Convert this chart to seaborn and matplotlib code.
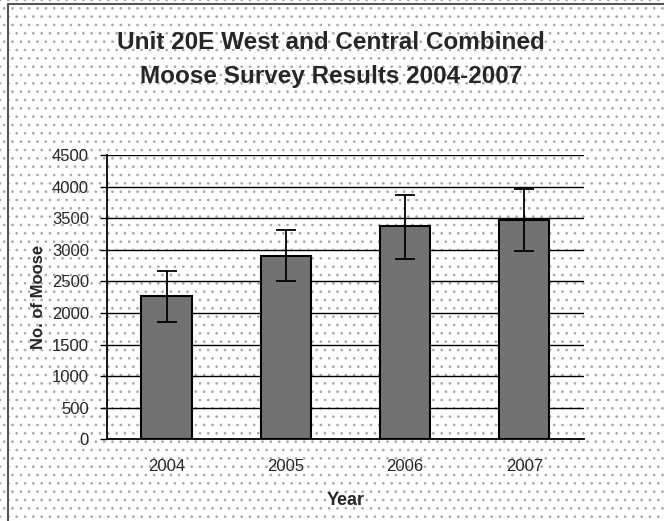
import numpy as np
import pandas as pd
import matplotlib
matplotlib.use("Agg")
import matplotlib.pyplot as plt
from matplotlib.patches import Rectangle
from matplotlib.lines import Line2D
from matplotlib.ticker import FixedLocator
import seaborn as sns

# datos
years = ["2004", "2005", "2006", "2007"]
moose = [2266, 2900, 3375, 3470]
err_low = [1854, 2503, 2852, 2979]
err_high = [2662, 3312, 3866, 3961]
yticks = [0, 500, 1000, 1500, 2000, 2500, 3000, 3500, 4000, 4500]

df = pd.DataFrame({"year": years, "moose": moose})

sns.set_style("white")
plt.rcParams["font.family"] = ["Liberation Sans", "DejaVu Sans"]
plt.rcParams["hatch.color"] = "#a8a8a8"
plt.rcParams["hatch.linewidth"] = 0.7

fig = plt.figure(figsize=(6.64, 5.21), dpi=100)
fig.patch.set_facecolor("white")

# fondo punteado (como el escaneo)
bg = Rectangle((0, 0), 1, 1, transform=fig.transFigure, facecolor="white",
               edgecolor="#a8a8a8", linewidth=0, hatch="..", zorder=-10)
fig.patches.append(bg)
fig.add_artist(Line2D([0.012, 0.012], [0.0, 0.992], color="#555555", linewidth=1.5))
fig.add_artist(Line2D([0.012, 1.0], [0.992, 0.992], color="#555555", linewidth=1.5))

ax = fig.add_axes([0.161, 0.157, 0.7185, 0.545])
ax.set_facecolor("none")

sns.barplot(data=df, x="year", y="moose", color="#727272", edgecolor="black",
            linewidth=1.5, width=0.42, saturation=1, ax=ax, zorder=3)

pos = np.arange(len(years))
yerr = [np.array(moose) - np.array(err_low), np.array(err_high) - np.array(moose)]
ax.errorbar(pos, moose, yerr=yerr, fmt="none", ecolor="black", elinewidth=1.3,
            capsize=7, capthick=1.3, zorder=4)

ax.set_ylim(0, 4500)
ax.set_xlim(-0.5, 3.5)
ax.set_yticks(yticks)
ax.set_yticklabels([str(v) for v in yticks], fontsize=12)
ax.yaxis.grid(True, color="black", linewidth=1)
ax.set_axisbelow(True)

ax.xaxis.set_minor_locator(FixedLocator([-0.5, 0.5, 1.5, 2.5, 3.5]))
ax.tick_params(axis="x", which="major", length=0, labelsize=12, pad=14)
ax.tick_params(axis="x", which="minor", length=6, width=1, color="black", direction="out")
ax.tick_params(axis="y", length=5, width=1, color="black", direction="out", pad=8, left=True)

for s in ["top", "right"]:
    ax.spines[s].set_visible(False)
for s in ["left", "bottom"]:
    ax.spines[s].set_color("black")
    ax.spines[s].set_linewidth(1.3)

ax.set_xlabel("Year", fontsize=13, fontweight="bold", labelpad=13)
ax.set_ylabel("No. of Moose", fontsize=12, fontweight="bold", labelpad=4)

fig.text(0.499, 0.886, "Unit 20E West and Central Combined\nMoose Survey Results 2004-2007",
         ha="center", va="center", fontsize=17.5, fontweight="bold", linespacing=1.6)

fig.savefig("out.png", dpi=100)
